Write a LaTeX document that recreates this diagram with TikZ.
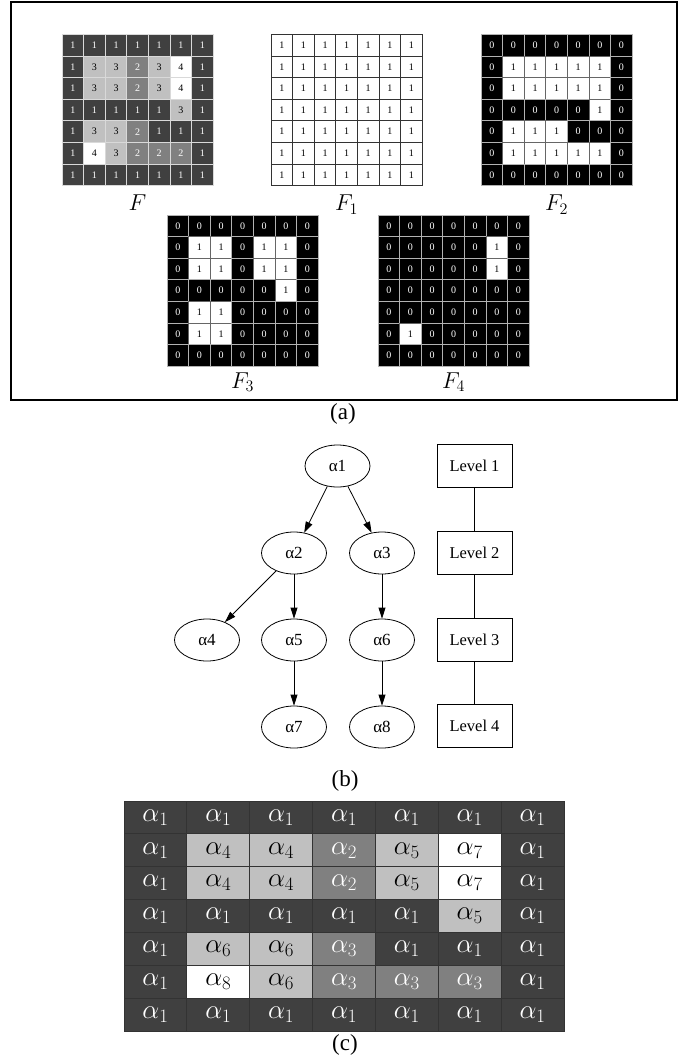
\RequirePackage{fix-cm}
\documentclass[tikz,border=0pt]{standalone}
\usepackage{fontspec}
\newfontfamily\timesf{Liberation Serif}
\usetikzlibrary{shapes.geometric,arrows.meta}
\definecolor{cdark}{HTML}{404040}
\definecolor{cmid}{HTML}{808080}
\definecolor{clight}{HTML}{C0C0C0}
\tikzset{
  cell/.style={rectangle, inner sep=0pt, minimum width=21.6pt, minimum height=21.6pt, line width=0.8pt, font=\timesf\fontsize{10}{10}\selectfont},
  fv1/.style={fill=cdark, text=white, draw=white!85!black},
  fv2/.style={fill=cmid, text=white, draw=white!85!black},
  fv3/.style={fill=clight, text=black, draw=white!85!black},
  fv4/.style={fill=white, text=black, draw=white!85!black},
  bw0/.style={fill=black, text=white, draw=white!70!black},
  bw1/.style={fill=white, text=black, draw=black!60},
  onecell/.style={fill=white, text=black, draw=black!80},
  ccell/.style={rectangle, inner sep=0pt, minimum width=62.86pt, minimum height=32.86pt, draw=black!80, line width=0.8pt, font=\fontsize{27}{27}\selectfont},
  av1/.style={fill=cdark, text=white},
  av2/.style={fill=cmid, text=white},
  av3/.style={fill=cmid, text=white},
  av4/.style={fill=clight, text=black},
  av5/.style={fill=clight, text=black},
  av6/.style={fill=clight, text=black},
  av7/.style={fill=white, text=black},
  av8/.style={fill=white, text=black},
  tnode/.style={ellipse, draw, line width=0.8pt, minimum width=65pt, minimum height=42pt, inner sep=0pt, font=\timesf\fontsize{17}{17}\selectfont},
  lvl/.style={rectangle, draw, line width=0.8pt, minimum width=75pt, minimum height=43pt, inner sep=0pt, font=\timesf\fontsize{16.5}{16.5}\selectfont},
  arr/.style={-{Triangle[length=11pt,width=7pt]}, line width=0.8pt},
  sublabel/.style={inner sep=0pt, font=\timesf\fontsize{23}{23}\selectfont},
  glabel/.style={inner sep=0pt, anchor=base, font=\fontsize{23}{23}\selectfont},
}
\def\Fdata{{1,1,1,1,1,1,1},{1,3,3,2,3,4,1},{1,3,3,2,3,4,1},{1,1,1,1,1,3,1},{1,3,3,2,1,1,1},{1,4,3,2,2,2,1},{1,1,1,1,1,1,1}}
\def\Adata{{1,1,1,1,1,1,1},{1,4,4,2,5,7,1},{1,4,4,2,5,7,1},{1,1,1,1,1,5,1},{1,6,6,3,1,1,1},{1,8,6,3,3,3,1},{1,1,1,1,1,1,1}}
\begin{document}
\begin{tikzpicture}[x=1pt,y=-1pt]
\useasboundingbox (0,0) rectangle (695,1064);
\fill[white] (0,0) rectangle (695,1064);
% frame (a)
\draw[line width=1.2pt] (11,2) rectangle (677,400);
% F
\foreach \row [count=\r] in \Fdata {
  \foreach \v [count=\c] in \row {
    \node[cell, fv\v] (F-\r-\c) at ({62+21.6*(\c-0.5)},{34.5+21.6*(\r-0.5)}) {\v};
  }
}
% F1
\foreach \row [count=\r] in \Fdata {
  \foreach \v [count=\c] in \row {
    \node[cell, onecell] (Fa-\r-\c) at ({271+21.6*(\c-0.5)},{34.5+21.6*(\r-0.5)}) {1};
  }
}
% F2
\foreach \row [count=\r] in \Fdata {
  \foreach \v [count=\c] in \row {
    \pgfmathtruncatemacro\b{\v>1}
    \node[cell, bw\b] (Fb-\r-\c) at ({481+21.6*(\c-0.5)},{34.5+21.6*(\r-0.5)}) {\b};
  }
}
% F3
\foreach \row [count=\r] in \Fdata {
  \foreach \v [count=\c] in \row {
    \pgfmathtruncatemacro\b{\v>2}
    \node[cell, bw\b] (Fc-\r-\c) at ({167+21.6*(\c-0.5)},{215+21.6*(\r-0.5)}) {\b};
  }
}
% F4
\foreach \row [count=\r] in \Fdata {
  \foreach \v [count=\c] in \row {
    \pgfmathtruncatemacro\b{\v>3}
    \node[cell, bw\b] (Fd-\r-\c) at ({378+21.6*(\c-0.5)},{215+21.6*(\r-0.5)}) {\b};
  }
}
\node[glabel] (lF)  at (137.6,211) {$F$};
\node[glabel] (lF1) at (346.6,211) {$F_1$};
\node[glabel] (lF2) at (556.6,211) {$F_2$};
\node[glabel] (lF3) at (242.6,388) {$F_3$};
\node[glabel] (lF4) at (453.6,388) {$F_4$};
\node[sublabel] (la) at (343,414) {(a)};
% tree (b)
\node[tnode] (a1) at (337.5,466) {α1};
\node[tnode] (a2) at (294,553) {α2};
\node[tnode] (a3) at (382,553) {α3};
\node[tnode] (a4) at (207,640) {α4};
\node[tnode] (a5) at (294,640) {α5};
\node[tnode] (a6) at (382,640) {α6};
\node[tnode] (a7) at (294,727) {α7};
\node[tnode] (a8) at (382,727) {α8};
\draw[arr] (a1) -- (a2);
\draw[arr] (a1) -- (a3);
\draw[arr] (a2) -- (a4);
\draw[arr] (a2) -- (a5);
\draw[arr] (a3) -- (a6);
\draw[arr] (a5) -- (a7);
\draw[arr] (a6) -- (a8);
\node[lvl] (L1) at (474.5,465.5) {Level 1};
\node[lvl] (L2) at (474.5,552.5) {Level 2};
\node[lvl] (L3) at (474.5,639.5) {Level 3};
\node[lvl] (L4) at (474.5,725.5) {Level 4};
\draw[line width=0.8pt] (L1) -- (L2);
\draw[line width=0.8pt] (L2) -- (L3);
\draw[line width=0.8pt] (L3) -- (L4);
\node[sublabel] (lb) at (345,781) {(b)};
% grid (c)
\foreach \row [count=\r] in \Adata {
  \foreach \v [count=\c] in \row {
    \node[ccell, av\v] (C-\r-\c) at ({124+62.86*(\c-0.5)},{801+32.86*(\r-0.5)}) {$\alpha_{\v}$};
  }
}
\node[sublabel] (lc) at (345,1045) {(c)};
\end{tikzpicture}
\end{document}
